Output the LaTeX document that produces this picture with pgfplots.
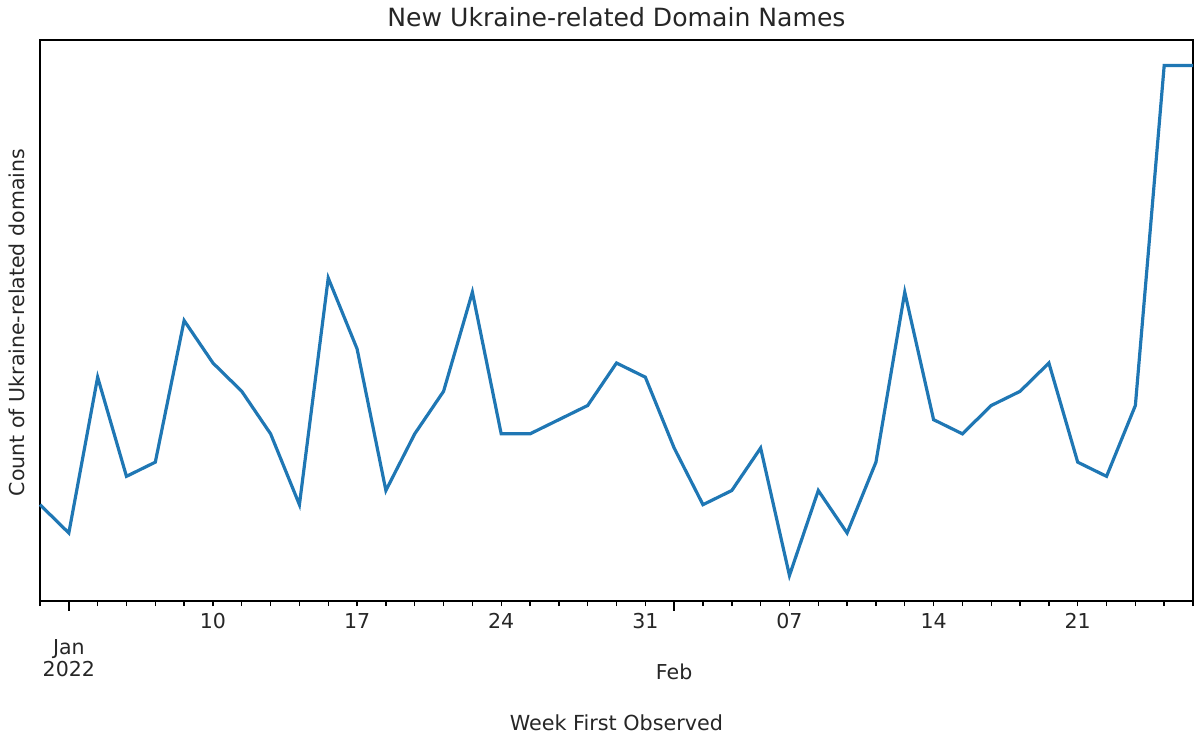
\documentclass[border=0pt]{standalone}
\usepackage{fontspec}
\setmainfont{DejaVu Sans}
\usepackage{pgfplots}
\pgfplotsset{compat=1.18}
\definecolor{mplblue}{HTML}{1F77B4}
\pgfplotstableread{
idx count
0 6
1 4
2 15
3 8
4 9
5 19
6 16
7 14
8 11
9 6
10 22
11 17
12 7
13 11
14 14
15 21
16 11
17 11
18 12
19 13
20 16
21 15
22 10
23 6
24 7
25 10
26 1
27 7
28 4
29 9
30 21
31 12
32 11
33 13
34 14
35 16
36 9
37 8
38 13
39 37
40 37
}\datatable
\begin{document}
\begin{tikzpicture}
\begin{axis}[
  scale only axis,
  width=576.5bp, height=280.5bp,
  xmin=0, xmax=40, ymin=-0.8, ymax=38.8,
  line width=0.8pt,
  ytick=\empty,
  xtick={6,11,16,21,26,31,36},
  xticklabels={10,17,24,31,07,14,21},
  minor xtick={0,...,40},
  extra x ticks={1,22},
  extra x tick labels={},
  extra x tick style={major tick length=4.75bp},
  major tick length=2.5bp,
  minor tick length=2.5bp,
  tick align=outside,
  xtick pos=left,
  ytick pos=left,
  tick style={black, line width=0.7pt},
  xticklabel style={font=\fontsize{10.3}{12}\selectfont, text=black!85},
  /pgf/number format/assume math mode=true,
  clip=false,
]
\addplot[mplblue, line width=1.6pt] table[x=idx, y=count] {\datatable};
\coordinate (sw) at (rel axis cs:0,0);
\coordinate (ne) at (rel axis cs:1,1);
\coordinate (janpos) at (axis cs:1,-0.8);
\coordinate (febpos) at (axis cs:22,-0.8);
\node[font=\fontsize{12.6}{14}\selectfont, text=black!85] at ([yshift=11.5bp]rel axis cs:0.5,1) {New Ukraine-related Domain Names};
\node[font=\fontsize{10.3}{12}\selectfont, text=black!85, rotate=90] at ([xshift=-11.5bp,yshift=-1bp]rel axis cs:0,0.5) {Count of Ukraine-related domains};
\node[font=\fontsize{10.4}{12}\selectfont, text=black!85] at ([yshift=-61bp]rel axis cs:0.5,0) {Week First Observed};
\end{axis}
\node[font=\fontsize{10.3}{12}\selectfont, text=black!85, align=center, inner sep=0pt] at ([yshift=-28.5bp]janpos) {Jan\\[-1pt]2022};
\node[font=\fontsize{10.3}{12}\selectfont, text=black!85, inner sep=0pt] at ([yshift=-35.5bp]febpos) {Feb};
\pgfresetboundingbox
\path[use as bounding box] ([shift={(-20bp,-69.5bp)}]sw) rectangle ([shift={(2bp,20bp)}]ne);
\end{tikzpicture}
\end{document}
